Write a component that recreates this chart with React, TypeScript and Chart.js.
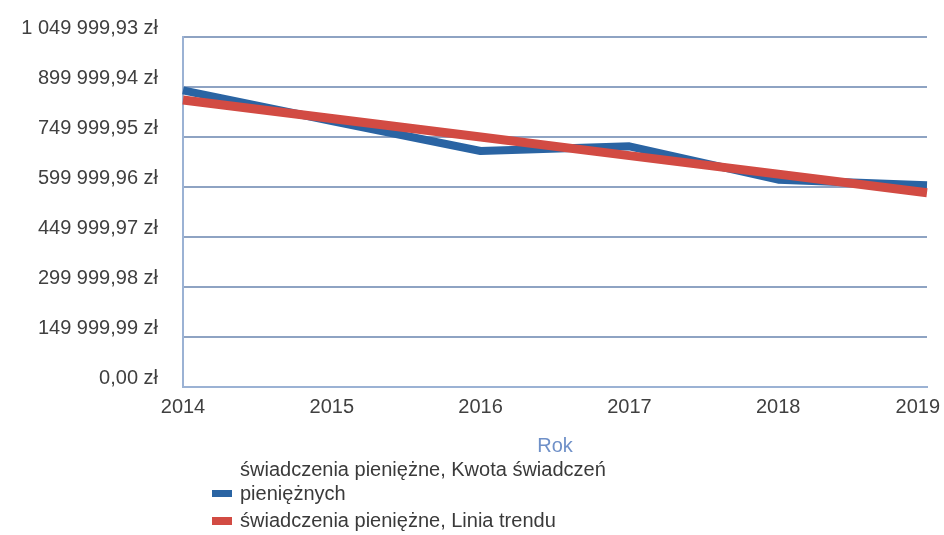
import React, { useEffect, useRef } from "react";
import { Chart, registerables } from "chart.js";

Chart.register(...registerables);

const years = ["2014", "2015", "2016", "2017", "2018", "2019"];
const kwotaSwiadczen = [890000, 798000, 708000, 722000, 622000, 605000];
const liniaTrendu = [861000, 805400, 749800, 694200, 638600, 583000];
const yTickValues = [0, 149999.99, 299999.98, 449999.97, 599999.96, 749999.95, 899999.94, 1049999.93];
const yTickLabels = ["0,00 zł", "149 999,99 zł", "299 999,98 zł", "449 999,97 zł", "599 999,96 zł", "749 999,95 zł", "899 999,94 zł", "1 049 999,93 zł"];
const axisTitle = "Rok";
const legendLines1 = ["świadczenia pieniężne, Kwota świadczeń", "pieniężnych"];
const legendLine2 = "świadczenia pieniężne, Linia trendu";

const FONT = "'Liberation Sans', Arial, sans-serif";
const BLUE = "#2a64a3";
const RED = "#d24b43";

const legendPlugin = {
  id: "customLegend",
  beforeDraw(chart: any) {
    // keep the last x label inside the canvas, as in the reference
    const scale = chart.scales.x;
    const items = scale.getLabelItems();
    if (items.length) {
      const last = items[items.length - 1];
      const ctx = chart.ctx;
      ctx.save();
      ctx.font = `20px ${FONT}`;
      const w = ctx.measureText(String(last.label)).width;
      ctx.restore();
      const maxX = chart.width - 4 - w / 2;
      if (last.options.translation[0] > maxX) last.options.translation[0] = maxX;
    }
  },
  afterDraw(chart: any) {
    const ctx = chart.ctx;
    ctx.save();
    ctx.font = `20px ${FONT}`;
    ctx.fillStyle = "#3a3a3a";
    ctx.textBaseline = "middle";
    ctx.textAlign = "left";
    ctx.fillText(legendLines1[0], 240, 470);
    ctx.fillText(legendLines1[1], 240, 494);
    ctx.fillText(legendLine2, 240, 521);
    ctx.fillStyle = BLUE;
    ctx.fillRect(212, 490, 20, 7);
    ctx.fillStyle = RED;
    ctx.fillRect(212, 517, 20, 8);
    ctx.restore();
  },
};

export default function App() {
  const ref = useRef<HTMLCanvasElement | null>(null);
  useEffect(() => {
    document.body.style.margin = "0";
    if (!ref.current) return;
    const chart = new Chart(ref.current, {
      type: "line",
      data: {
        labels: years,
        datasets: [
          {
            label: legendLines1.join(" "),
            data: kwotaSwiadczen,
            borderColor: BLUE,
            backgroundColor: BLUE,
            borderWidth: 8,
            pointRadius: 0,
            tension: 0,
            borderJoinStyle: "round",
            order: 1,
          },
          {
            label: legendLine2,
            data: liniaTrendu,
            borderColor: RED,
            backgroundColor: RED,
            borderWidth: 9,
            pointRadius: 0,
            tension: 0,
            borderJoinStyle: "round",
            order: 0,
          },
        ],
      },
      options: {
        animation: false,
        responsive: true,
        maintainAspectRatio: false,
        layout: { padding: { top: 33, right: 17, bottom: 77, left: 0 } },
        plugins: { legend: { display: false }, tooltip: { enabled: false } },
        scales: {
          x: {
            type: "category",
            offset: false,
            grid: { display: false, drawTicks: false },
            border: { display: true, color: "#9bb2d4", width: 2 },
            ticks: { padding: 8, color: "#404040", font: { family: FONT, size: 20 }, maxRotation: 0, autoSkip: false },
            title: { display: true, text: axisTitle, color: "#6f90c8", font: { family: FONT, size: 20 }, padding: { top: 0, bottom: 0 } },
            afterFit(scale: any) {
              scale.height = 71;
              scale.paddingLeft = 0;
              scale.paddingRight = 0;
            },
          },
          y: {
            min: 0,
            max: 1049999.93,
            grid: { color: "#8ea3c3", lineWidth: 2, drawTicks: false },
            border: { display: true, color: "#9bb2d4", width: 2 },
            ticks: {
              padding: 25,
              labelOffset: -9,
              color: "#404040",
              font: { family: FONT, size: 20 },
              callback: (_v: any, i: number) => yTickLabels[i],
            },
            afterBuildTicks(scale: any) {
              scale.ticks = yTickValues.map((v) => ({ value: v }));
            },
            afterFit(scale: any) {
              scale.width = 183;
            },
          },
        },
      },
      plugins: [legendPlugin],
    } as any);
    return () => chart.destroy();
  }, []);
  return (
    <div style={{ position: "relative", width: 944, height: 535 }}>
      <canvas ref={ref} />
    </div>
  );
}
